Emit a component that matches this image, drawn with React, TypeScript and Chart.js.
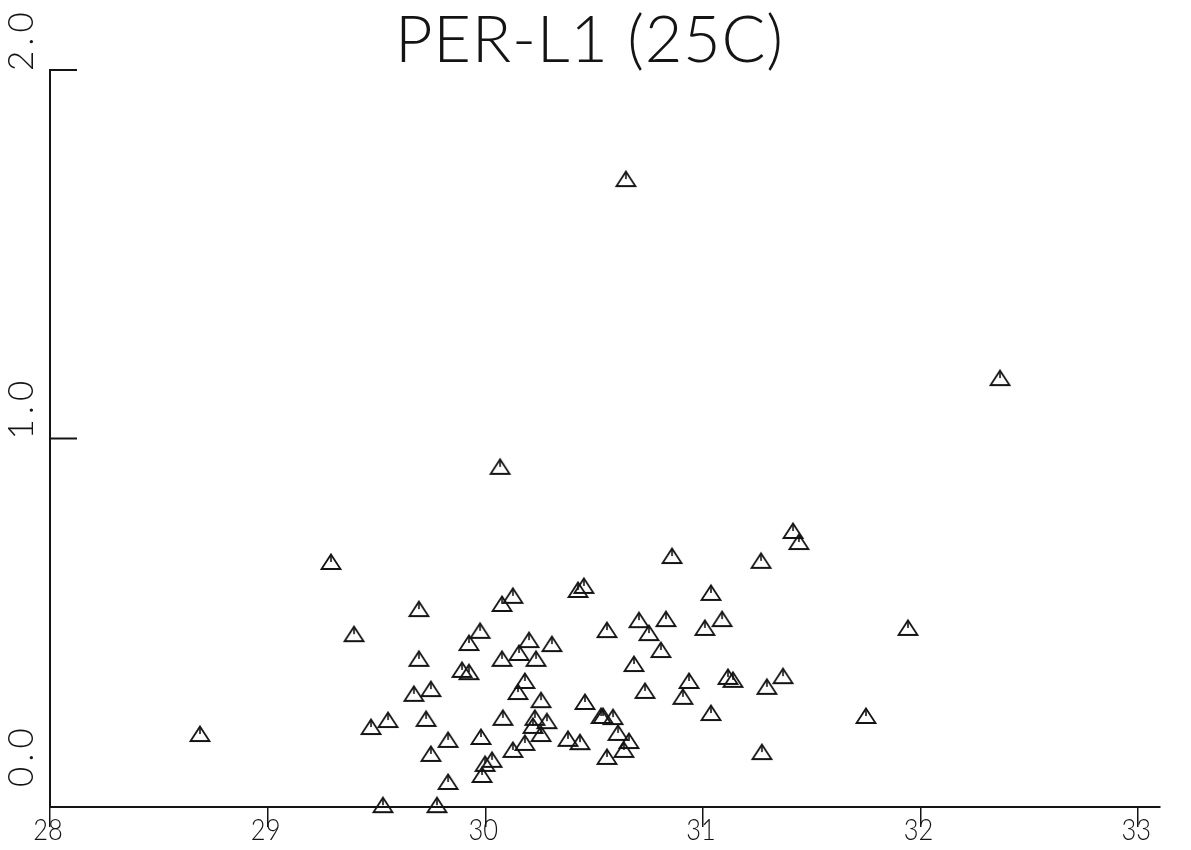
import React, { useEffect, useRef } from "react";
import { Chart, registerables } from "chart.js";

Chart.register(...registerables);

const chartTitle = "PER-L1 (25C)";
const xTickValues = [28, 29, 30, 31, 32, 33];
const yTickValues = [0, 1, 2];
const yTickLabels = ["0.0", "1.0", "2.0"];
const xAxisMin = 28;
const xAxisMax = 33.1;
const yAxisMin = 0;
const yAxisMax = 2;

const xValues = [
  28.689, 29.291, 29.397, 29.475, 29.553, 29.53, 29.695, 29.695, 29.672, 29.75,
  29.728, 29.75, 29.829, 29.829, 29.778, 29.893, 29.925, 29.925, 29.976, 29.98,
  30.031, 29.999, 29.985, 30.068, 30.077, 30.127, 30.077, 30.081, 30.127, 30.155,
  30.15, 30.182, 30.201, 30.233, 30.182, 30.256, 30.228, 30.283, 30.219, 30.256,
  30.306, 30.38, 30.435, 30.426, 30.453, 30.458, 30.532, 30.541, 30.587, 30.559,
  30.559, 30.61, 30.637, 30.66, 30.646, 30.683, 30.706, 30.752, 30.734, 30.807,
  30.83, 30.858, 30.908, 30.936, 31.009, 31.037, 31.088, 31.037, 31.115, 31.138,
  31.267, 31.294, 31.271, 31.368, 31.414, 31.441, 31.749, 31.942, 32.365,
];

const yValues = [
  0.198, 0.665, 0.469, 0.217, 0.236, 0.005, 0.537, 0.402, 0.307, 0.32,
  0.239, 0.144, 0.182, 0.068, 0.005, 0.372, 0.366, 0.445, 0.478, 0.19,
  0.128, 0.117, 0.087, 0.923, 0.551, 0.573, 0.402, 0.242, 0.155, 0.418,
  0.312, 0.342, 0.453, 0.402, 0.174, 0.29, 0.242, 0.233, 0.22, 0.198,
  0.442, 0.185, 0.176, 0.589, 0.6, 0.285, 0.247, 0.247, 0.244, 0.48,
  0.136, 0.201, 0.155, 0.179, 1.704, 0.388, 0.507, 0.472, 0.315, 0.426,
  0.51, 0.681, 0.299, 0.342, 0.486, 0.581, 0.51, 0.255, 0.353, 0.345,
  0.668, 0.326, 0.149, 0.355, 0.749, 0.719, 0.247, 0.486, 1.164,
];

const INK = "#141414";
const FONT = 'Lato, "DejaVu Sans", sans-serif';

function makeTriangleMarker(): HTMLCanvasElement {
  const c = document.createElement("canvas");
  c.width = 24;
  c.height = 20;
  const g = c.getContext("2d")!;
  g.strokeStyle = INK;
  g.lineWidth = 1.8;
  g.lineJoin = "miter";
  g.beginPath();
  g.moveTo(12, 2.5);
  g.lineTo(21.5, 17);
  g.lineTo(2.5, 17);
  g.closePath();
  g.stroke();
  g.beginPath();
  g.lineWidth = 1.6;
  g.moveTo(12, 3);
  g.lineTo(12, 10);
  g.stroke();
  return c;
}

export default function App() {
  const canvasRef = useRef<HTMLCanvasElement | null>(null);

  useEffect(() => {
    document.body.style.margin = "0";
    const canvas = canvasRef.current;
    if (!canvas) return;
    const marker = makeTriangleMarker();

    const plotterText = {
      id: "plotterText",
      afterDraw(chart: any) {
        const c = chart.ctx as any;
        const area = chart.chartArea;
        const xs = chart.scales.x;
        const ys = chart.scales.y;
        c.save();
        c.fillStyle = INK;
        c.strokeStyle = INK;

        // title, spread to the plotter's width
        c.font = `300 65px ${FONT}`;
        c.textAlign = "left";
        c.textBaseline = "alphabetic";
        c.letterSpacing = "0px";
        const natural = c.measureText(chartTitle).width;
        const targetW = 388;
        const n = chartTitle.length;
        if (natural < targetW) {
          c.letterSpacing = `${(targetW - natural) / (n - 1)}px`;
          c.fillText(chartTitle, 395, 62);
          c.letterSpacing = "0px";
        } else {
          c.save();
          c.translate(395, 62);
          c.scale(targetW / natural, 1);
          c.fillText(chartTitle, 0, 0);
          c.restore();
        }

        // x tick labels
        c.font = `300 30px ${FONT}`;
        c.textAlign = "center";
        c.textBaseline = "alphabetic";
        xs.ticks.forEach((t: any) => {
          const px = xs.getPixelForValue(t.value);
          c.save();
          c.translate(px - 2, area.bottom + 33);
          c.scale(0.85, 1);
          c.fillText(String(t.value), 0, 0);
          c.restore();
        });

        // y inward ticks + rotated labels
        c.lineWidth = 2;
        c.font = `300 35px ${FONT}`;
        c.textAlign = "left";
        c.textBaseline = "alphabetic";
        ys.ticks.forEach((t: any) => {
          const py = ys.getPixelForValue(t.value);
          c.beginPath();
          c.moveTo(area.left, py);
          c.lineTo(area.left + 27, py);
          c.stroke();
          const idx = yTickValues.indexOf(t.value);
          const label = idx >= 0 ? yTickLabels[idx] : String(t.value);
          const start = Math.min(py + 1, area.bottom - 20);
          c.save();
          c.translate(33, start);
          c.rotate(-Math.PI / 2);
          c.letterSpacing = "5px";
          c.fillText(label, 0, 0);
          c.letterSpacing = "0px";
          c.restore();
        });
        c.restore();
      },
    };

    const chart = new Chart(canvas, {
      type: "scatter",
      data: {
        datasets: [
          {
            data: xValues.map((x, i) => ({ x, y: yValues[i] })),
            pointStyle: marker as any,
            pointRadius: 10,
            showLine: false,
            clip: false as any,
          },
        ],
      },
      options: {
        responsive: false,
        animation: false,
        layout: { padding: { top: 70, right: 31, left: 0, bottom: 0 } },
        plugins: {
          legend: { display: false },
          tooltip: { enabled: false },
          title: { display: false },
        },
        scales: {
          x: {
            type: "linear",
            min: xAxisMin,
            max: xAxisMax,
            afterBuildTicks: (scale: any) => {
              scale.ticks = xTickValues.map((v) => ({ value: v }));
            },
            afterFit: (scale: any) => {
              scale.height = 43;
            },
            ticks: { display: false },
            grid: {
              display: true,
              drawOnChartArea: false,
              drawTicks: true,
              tickLength: 20,
              color: INK,
              lineWidth: 1.5,
            },
            border: { display: true, color: INK, width: 2 },
          },
          y: {
            type: "linear",
            min: yAxisMin,
            max: yAxisMax,
            afterBuildTicks: (scale: any) => {
              scale.ticks = yTickValues.map((v) => ({ value: v }));
            },
            afterFit: (scale: any) => {
              scale.width = 50;
            },
            ticks: { display: false },
            grid: { display: false },
            border: { display: true, color: INK, width: 2 },
          },
        },
      },
      plugins: [plotterText],
    });

    return () => {
      chart.destroy();
    };
  }, []);

  return (
    <div
      style={{
        position: "fixed",
        left: 0,
        top: 0,
        width: 1191,
        height: 850,
        background: "#ffffff",
      }}
    >
      <canvas ref={canvasRef} width={1191} height={850} />
    </div>
  );
}
